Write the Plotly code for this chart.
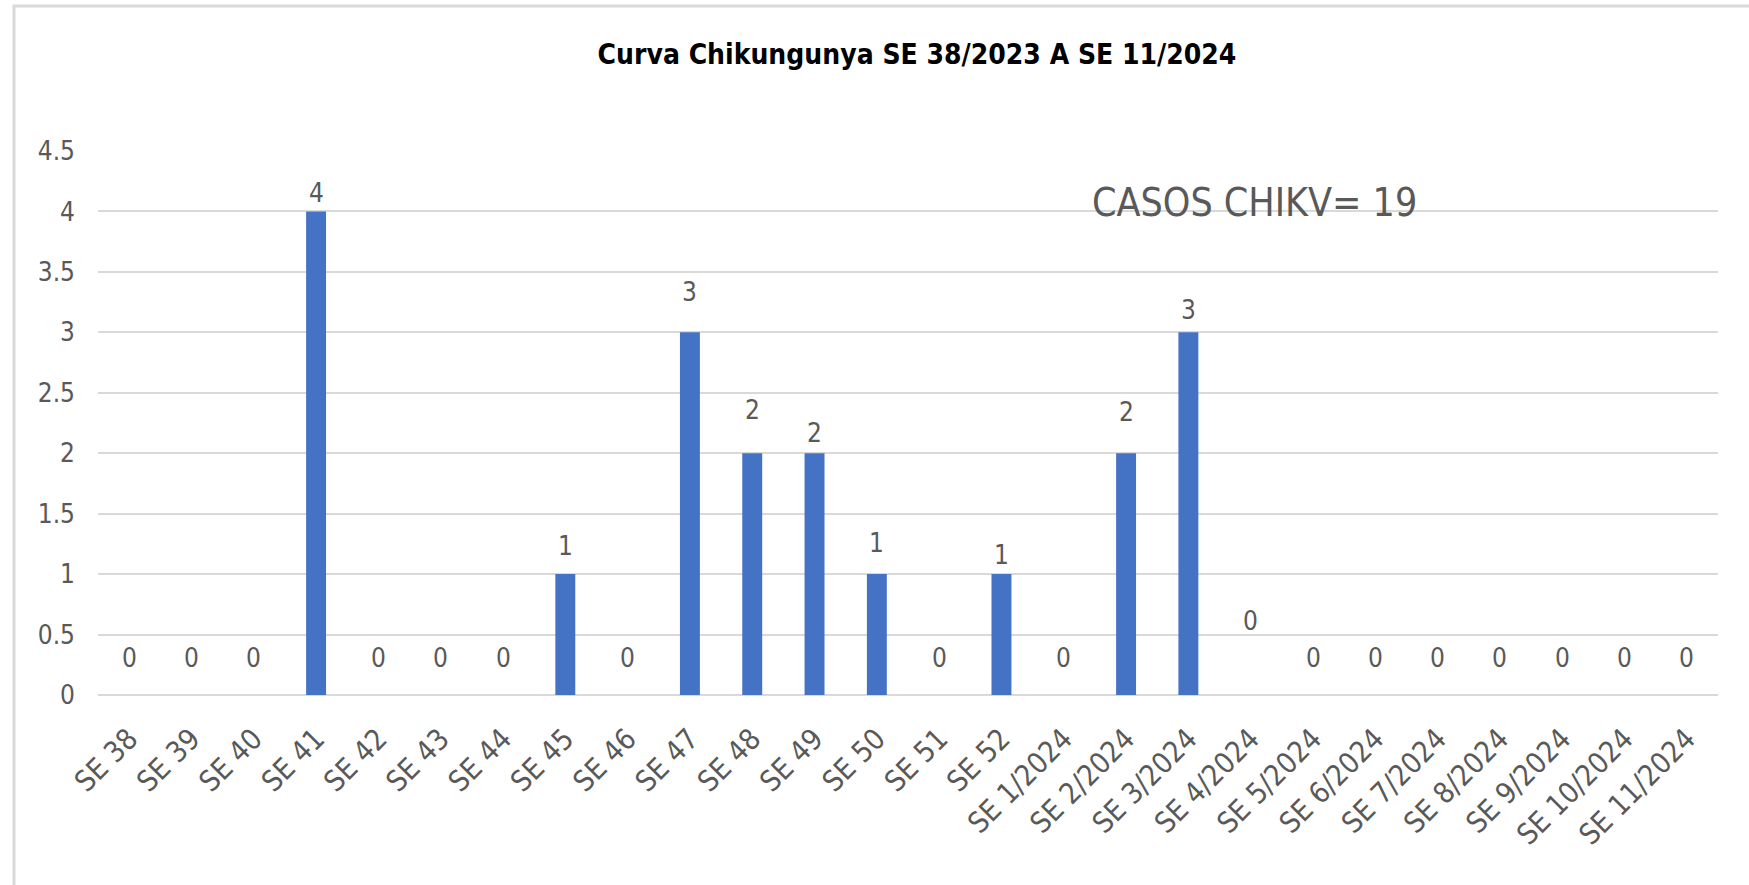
import plotly.graph_objects as go

categories = ["SE 38", "SE 39", "SE 40", "SE 41", "SE 42", "SE 43", "SE 44", "SE 45",
              "SE 46", "SE 47", "SE 48", "SE 49", "SE 50", "SE 51", "SE 52",
              "SE 1/2024", "SE 2/2024", "SE 3/2024", "SE 4/2024", "SE 5/2024",
              "SE 6/2024", "SE 7/2024", "SE 8/2024", "SE 9/2024", "SE 10/2024",
              "SE 11/2024"]
casos = [0, 0, 0, 4, 0, 0, 0, 1, 0, 3, 2, 2, 1, 0, 1, 0, 2, 3, 0, 0, 0, 0, 0, 0, 0, 0]
y_ticks = [0, 0.5, 1, 1.5, 2, 2.5, 3, 3.5, 4, 4.5]
# vertical pixel offset of each data label (as placed in the original)
label_shift = [37, 37, 37, 18, 37, 37, 37, 28, 37, 40, 43, 20, 31, 37, 19, 37, 41, 22, 74,
               37, 37, 37, 37, 37, 37, 37]

title = "Curva Chikungunya SE 38/2023 A SE 11/2024"
note = f"CASOS CHIKV= {sum(casos)}"

W, H = 1749, 885
L, R, T, B = 98, 31, 151, 190
FONT = "DejaVu Sans Condensed, Roboto, sans-serif"
GRAY = "#595959"

fig = go.Figure()
fig.add_trace(go.Bar(x=categories, y=casos, marker_color="#4472C4", marker_line_width=0,
                     hoverinfo="x+y"))

for c, v, s in zip(categories, casos, label_shift):
    fig.add_annotation(x=c, y=v, text=str(v), showarrow=False, yanchor="middle",
                       yshift=s, font=dict(family=FONT, size=26, color=GRAY))

pw = W - L - R
ph = H - T - B
fig.add_annotation(xref="paper", yref="paper", x=(1254 - L) / pw, y=(H - B - 202) / ph,
                   text=note, showarrow=False, xanchor="center", yanchor="middle",
                   font=dict(family=FONT, size=39, color=GRAY))

# chart frame (only top and left edges visible)
fig.add_shape(type="rect", xref="paper", yref="paper",
              x0=(14 - L) / pw, x1=1.2, y0=-0.5, y1=(H - B - 6) / ph,
              line=dict(color="#d9d9d9", width=3), layer="below")

fig.update_layout(
    width=W, height=H,
    margin=dict(l=L, r=R, t=T, b=B),
    paper_bgcolor="white", plot_bgcolor="white",
    showlegend=False,
    bargap=0.68,
    title=dict(text=f"<b>{title}</b>", x=917 / W, xanchor="center", y=1 - 54 / H,
               yanchor="middle", font=dict(family=FONT, size=28, color="black")),
    font=dict(family=FONT, color=GRAY),
)
fig.update_xaxes(showgrid=False, showline=False, ticks="", tickangle=-45,
                 tickfont=dict(family=FONT, size=29, color=GRAY), ticklabelstandoff=20)
fig.update_yaxes(range=[0, 4.5], tickvals=y_ticks, ticktext=[f"{t:g}" for t in y_ticks],
                 showgrid=True, gridcolor="#d9d9d9", gridwidth=1.5, zeroline=True,
                 zerolinecolor="#d9d9d9", zerolinewidth=1.5, showline=False, ticks="",
                 tickfont=dict(family=FONT, size=26, color=GRAY), ticklabelstandoff=22)

fig.write_html("out.html", config={"displayModeBar": False},
               post_script="document.body.style.margin='0';")
